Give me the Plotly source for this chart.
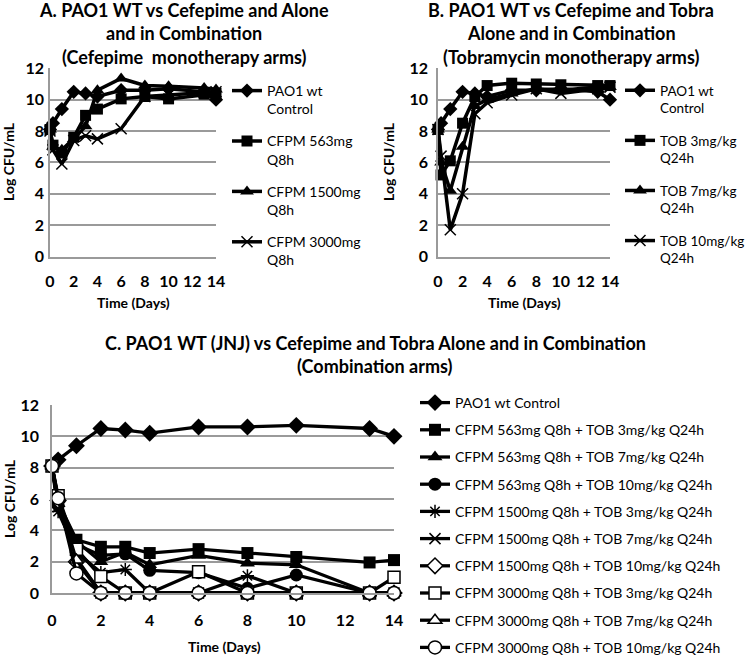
import plotly.graph_objects as go

W, H = 750, 655

# ---------------- data ----------------
time_days = [0, 0.25, 1, 2, 3, 4, 6, 8, 10, 13, 14]
x_ticks = [0, 2, 4, 6, 8, 10, 12, 14]
y_ticks = [0, 2, 4, 6, 8, 10, 12]

# Panel A: cefepime monotherapy
a_control = [8.1, 8.5, 9.4, 10.5, 10.4, 10.2, 10.6, 10.6, 10.7, 10.5, 10.0]
a_cfpm563 = [8.1, 7.1, 6.6, 7.6, 9.0, 9.4, 10.05, 10.2, 10.05, 10.35, 10.4]
a_cfpm1500 = [8.1, 7.0, 6.8, 7.5, 8.3, 10.6, 11.35, 10.9, 10.85, 10.75, 10.65]
a_cfpm3000 = [8.0, 6.8, 5.9, 7.4, 7.7, 7.5, 8.15, 10.2, 10.3, 10.45, 10.5]
a_names = ["PAO1 wt<br>Control", "CFPM 563mg<br>Q8h", "CFPM 1500mg<br>Q8h", "CFPM 3000mg<br>Q8h"]

# Panel B: tobramycin monotherapy
b_control = [8.1, 8.5, 9.4, 10.5, 10.4, 10.2, 10.6, 10.6, 10.7, 10.5, 10.0]
b_tob3 = [8.1, 5.2, 6.1, 8.5, 10.2, 10.9, 11.05, 11.0, 10.95, 10.9, 10.9]
b_tob7 = [8.1, 6.0, 4.2, 7.0, 9.6, 10.0, 10.4, 10.7, 10.6, 10.8, 10.8]
b_tob10 = [8.1, 6.4, 1.7, 4.0, 9.1, 9.8, 10.3, 10.7, 10.4, 10.7, 10.8]
b_names = ["PAO1 wt<br>Control", "TOB 3mg/kg<br>Q24h", "TOB 7mg/kg<br>Q24h", "TOB 10mg/kg<br>Q24h"]

# Panel C: combination arms
c_control = [8.1, 8.5, 9.4, 10.5, 10.4, 10.2, 10.6, 10.6, 10.7, 10.5, 10.0]
c_563_t3 = [8.1, 5.8, 3.4, 2.95, 2.95, 2.55, 2.8, 2.55, 2.3, 1.95, 2.1]
c_563_t7 = [8.1, 5.7, 3.3, 2.0, 2.6, 1.8, 2.4, 1.9, 1.8, 0, 0]
c_563_t10 = [8.1, 5.6, 3.1, 2.4, 2.5, 1.45, 1.3, 0.3, 1.15, 0, 0]
c_1500_t3 = [8.1, 5.2, 2.6, 1.3, 1.5, 0, 0, 1.1, 0, 0, 0]
c_1500_t7 = [8.1, 5.5, 2.2, 0, 0, 0, 0, 0, 0, 0, 0]
c_1500_t10 = [8.1, 5.9, 2.0, 0, 0, 0, 0, 0, 0, 0, 0]
c_3000_t3 = [8.1, 6.2, 2.8, 1.05, 0, 0, 1.35, 0, 0, 0, 1.0]
c_3000_t7 = [8.1, 6.0, 2.1, 0, 0, 0, 0, 0, 0, 0, 0]
c_3000_t10 = [8.1, 6.05, 1.25, 0, 0, 0, 0, 0, 0, 0, 0]
c_names = [
    "PAO1 wt Control",
    "CFPM 563mg Q8h + TOB 3mg/kg Q24h",
    "CFPM 563mg Q8h + TOB 7mg/kg Q24h",
    "CFPM 563mg Q8h + TOB 10mg/kg Q24h",
    "CFPM 1500mg Q8h + TOB 3mg/kg Q24h",
    "CFPM 1500mg Q8h + TOB 7mg/kg Q24h",
    "CFPM 1500mg Q8h + TOB 10mg/kg Q24h",
    "CFPM 3000mg Q8h + TOB 3mg/kg Q24h",
    "CFPM 3000mg Q8h + TOB 7mg/kg Q24h",
    "CFPM 3000mg Q8h + TOB 10mg/kg Q24h",
]

# ---------------- helpers ----------------
def px(x):
    return x / W

def py(y):
    return 1 - y / H

FONT = "Lato"
GRID = "#9a9a9a"

fig = go.Figure()

def marker(sym, fill="black", size=10, lw=1.5):
    return dict(symbol=sym, color=fill, size=size, line=dict(color="black", width=lw))

ab_markers = [
    marker("diamond", size=11, lw=0),
    marker("square", size=11, lw=0),
    marker("triangle-up", size=12, lw=0),
    marker("x-thin", size=11, lw=1.5),
]

def add_series(series, names, markers, xa, ya, legend, width):
    for i, (s, n, m) in enumerate(zip(series, names, markers)):
        fig.add_trace(go.Scatter(
            x=time_days, y=s, name=n, mode="lines+markers",
            line=dict(color="black", width=width), marker=m,
            xaxis=xa, yaxis=ya, legend=legend, legendgroup=f"{legend}_{i}",
            cliponaxis=False,
        ))

add_series([a_control, a_cfpm563, a_cfpm1500, a_cfpm3000], a_names, ab_markers, "x", "y", "legend", 3.5)
add_series([b_control, b_tob3, b_tob7, b_tob10], b_names, ab_markers, "x2", "y2", "legend2", 3.5)

c_markers = [
    marker("diamond", size=13, lw=0),
    marker("square", size=12, lw=0),
    marker("triangle-up", size=13, lw=0),
    marker("circle", size=13, lw=0),
    marker("asterisk", size=11, lw=1.5),
    marker("x-thin", size=11, lw=1.5),
    marker("diamond", fill="white", size=12, lw=1.5),
    marker("square", fill="white", size=12, lw=1.5),
    marker("triangle-up", fill="white", size=12, lw=1.5),
    marker("circle", fill="white", size=13, lw=1.5),
]
add_series([c_control, c_563_t3, c_563_t7, c_563_t10, c_1500_t3, c_1500_t7,
            c_1500_t10, c_3000_t3, c_3000_t7, c_3000_t10],
           c_names, c_markers, "x3", "y3", "legend3", 3.3)

tickfont = dict(family=FONT, size=16, color="black", weight="bold")

def xaxis(dom, anchor, standoff):
    return dict(domain=dom, anchor=anchor, range=[0, 14], tickvals=x_ticks,
                showgrid=False, zeroline=False, showline=True, linecolor=GRID,
                linewidth=1.5, ticks="", tickfont=tickfont, ticklabelstandoff=standoff,
                fixedrange=True, automargin=False)

def yaxis(dom, anchor, standoff):
    return dict(domain=dom, anchor=anchor, range=[0, 12], tickvals=y_ticks,
                showgrid=True, gridcolor=GRID, gridwidth=1.5, zeroline=False,
                showline=True, linecolor=GRID, linewidth=1.5, ticks="",
                tickfont=tickfont, ticklabelstandoff=standoff, fixedrange=True,
                automargin=False)

top_dom = [py(256.5), py(68.3)]
fig.update_layout(
    width=W, height=H, margin=dict(l=0, r=0, t=0, b=0, autoexpand=False),
    paper_bgcolor="white", plot_bgcolor="white", showlegend=True,
    xaxis=xaxis([px(50), px(216)], "y", 10),
    yaxis=yaxis(top_dom, "x", 1),
    xaxis2=xaxis([px(438), px(610)], "y2", 10),
    yaxis2=yaxis(top_dom, "x2", 5),
    xaxis3=xaxis([px(52), px(394)], "y3", 12),
    yaxis3=yaxis([py(593), py(405)], "x3", 8),
    legend=dict(x=px(227), y=py(75), xanchor="left", yanchor="top",
                font=dict(family=FONT, size=14, color="black"), valign="top",
                tracegroupgap=11, bgcolor="rgba(0,0,0,0)"),
    legend2=dict(x=px(620), y=py(75), xanchor="left", yanchor="top",
                 font=dict(family=FONT, size=13.5, color="black"), valign="top",
                 tracegroupgap=12, bgcolor="rgba(0,0,0,0)"),
    legend3=dict(x=px(415), y=py(387), xanchor="left", yanchor="top",
                 font=dict(family=FONT, size=14, color="black"),
                 tracegroupgap=6, bgcolor="rgba(0,0,0,0)"),
)

def text(x, y, s, size, bold=True, angle=0):
    fig.add_annotation(x=px(x), y=py(y), xref="paper", yref="paper", text=s,
                       showarrow=False, textangle=angle, xanchor="center", yanchor="middle",
                       font=dict(family=FONT, size=size, color="black",
                                 weight="bold" if bold else "normal"))

# Titles
text(184, 10, "A. PAO1 WT vs Cefepime and Alone", 18)
text(184, 33, "and in Combination", 18)
text(184, 57, "(Cefepime  monotherapy arms)", 18)
text(571, 10, "B. PAO1 WT vs Cefepime and Tobra", 18)
text(571, 33, "Alone and in Combination", 18)
text(571, 57, "(Tobramycin monotherapy arms)", 18)
text(375, 343, "C. PAO1 WT (JNJ) vs Cefepime and Tobra Alone and in Combination", 18)
text(375, 366, "(Combination arms)", 18)

# Axis titles
text(8, 162, "Log CFU/mL", 14, angle=-90)
text(388, 162, "Log CFU/mL", 14, angle=-90)
text(9, 499, "Log CFU/mL", 14, angle=-90)
text(133, 302, "Time (Days)", 14)
text(524, 302, "Time (Days)", 14)
text(224, 646, "Time (Days)", 14)

fig.write_html("out.html",
               config={"displayModeBar": False},
               post_script="document.body.style.margin='0';document.body.style.padding='0';"
                           "document.body.style.overflow='hidden';")
